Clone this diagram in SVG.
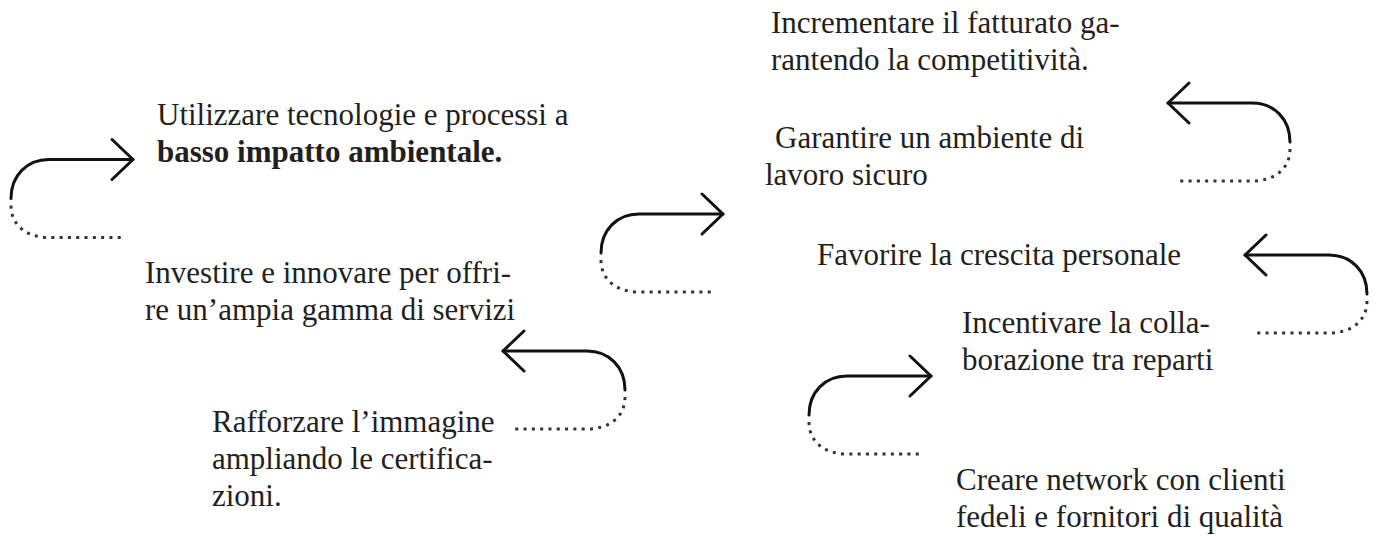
<svg xmlns="http://www.w3.org/2000/svg" xmlns:xlink="http://www.w3.org/1999/xlink" width="1381" height="536" viewBox="0 0 1381 536">
<style>
  .t { font-family: "Liberation Serif", "Times New Roman", serif; font-size: 31px; fill: #231f20; }
  .b { font-weight: bold; }
  .solid { fill: none; stroke: #111; stroke-width: 3; stroke-linecap: round; stroke-linejoin: round; }
  .dots { fill: none; stroke: #333; stroke-width: 3; stroke-dasharray: 3 5.3; stroke-linecap: butt; }
</style>
<defs>
  <g id="loop">
    <path class="solid" d="M0,39 C0,16 16,0 38,0 H122"/>
    <path class="solid" d="M101,-20 L122,0 L101,20"/>
    <path class="dots" d="M0,46 C0,66 16,78 38,78 H114"/>
  </g>
</defs>
<rect width="1381" height="536" fill="#ffffff"/>
<g id="connectors">
  <use xlink:href="#loop" href="#loop" transform="translate(11,159.5)"/>
  <use xlink:href="#loop" href="#loop" transform="translate(601,214)"/>
  <use xlink:href="#loop" href="#loop" transform="translate(809,376)"/>
  <use xlink:href="#loop" href="#loop" transform="translate(1290,103) scale(-1,1)"/>
  <use xlink:href="#loop" href="#loop" transform="translate(625,351) scale(-1,1)"/>
  <use xlink:href="#loop" href="#loop" transform="translate(1367,255) scale(-1,1)"/>
</g>
<g id="node-tecnologie">
  <text class="t" x="157" y="125">Utilizzare tecnologie e processi a</text>
  <text class="t b" x="157" y="162">basso impatto ambientale.</text>
</g>
<g id="node-investire">
  <text class="t" x="145" y="283">Investire e innovare per offri-</text>
  <text class="t" x="145" y="320">re un’ampia gamma di servizi</text>
</g>
<g id="node-immagine">
  <text class="t" x="212" y="432">Rafforzare l’immagine</text>
  <text class="t" x="212" y="469">ampliando le certifica-</text>
  <text class="t" x="212" y="506">zioni.</text>
</g>
<g id="node-fatturato">
  <text class="t" x="771" y="33">Incrementare il fatturato ga-</text>
  <text class="t" x="771" y="70">rantendo la competitività.</text>
</g>
<g id="node-sicuro">
  <text class="t" x="775" y="148">Garantire un ambiente di</text>
  <text class="t" x="765" y="185">lavoro sicuro</text>
</g>
<g id="node-crescita">
  <text class="t" x="817" y="265">Favorire la crescita personale</text>
</g>
<g id="node-collaborazione">
  <text class="t" x="962" y="333">Incentivare la colla-</text>
  <text class="t" x="962" y="370">borazione tra reparti</text>
</g>
<g id="node-network">
  <text class="t" x="956" y="490">Creare network con clienti</text>
  <text class="t" x="956" y="527">fedeli e fornitori di qualità</text>
</g>
</svg>
